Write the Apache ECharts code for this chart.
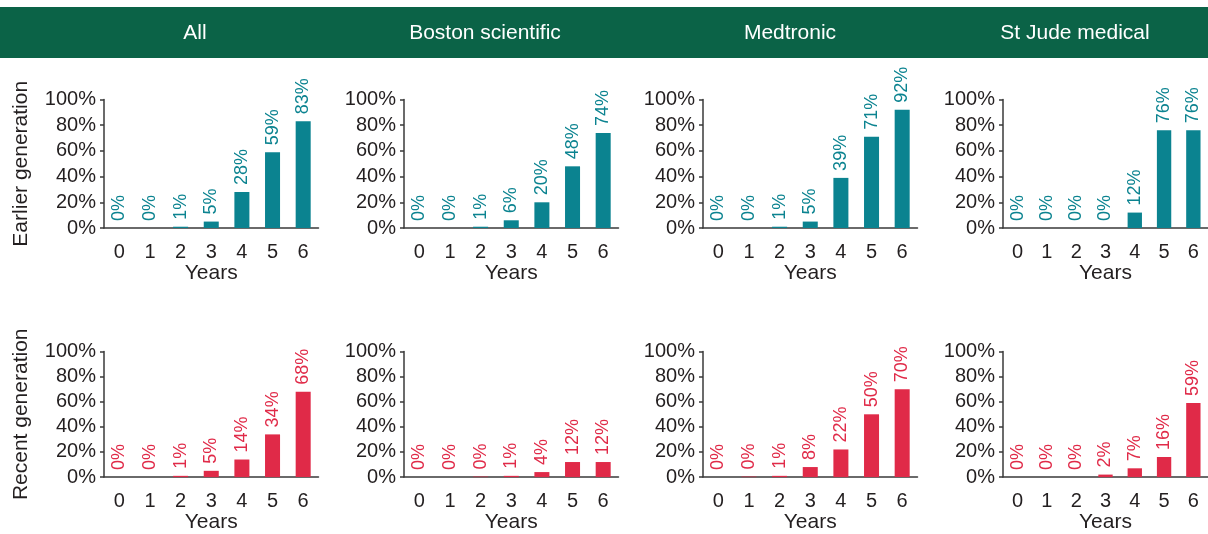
<!DOCTYPE html>
<html>
<head>
<meta charset="utf-8">
<script src="https://cdn.jsdelivr.net/npm/echarts@6/dist/echarts.min.js"></script>
<style>
  html, body { margin: 0; padding: 0; background: #fff; }
  #chart { width: 1208px; height: 534px; }
</style>
</head>
<body>
<div id="chart"></div>
<script>
// Share of devices reaching end of battery life, by years since implant
const years = ['0', '1', '2', '3', '4', '5', '6'];
const manufacturers = ['All', 'Boston scientific', 'Medtronic', 'St Jude medical'];
const generations = ['Earlier generation', 'Recent generation'];
const yTicks = [0, 20, 40, 60, 80, 100];

// Earlier-generation devices (%)
const earlierAll = [0, 0, 1, 5, 28, 59, 83];
const earlierBoston = [0, 0, 1, 6, 20, 48, 74];
const earlierMedtronic = [0, 0, 1, 5, 39, 71, 92];
const earlierStJude = [0, 0, 0, 0, 12, 76, 76];

// Recent-generation devices (%)
const recentAll = [0, 0, 1, 5, 14, 34, 68];
const recentBoston = [0, 0, 0.4, 1, 4, 12, 12];
const recentMedtronic = [0, 0.4, 1, 8, 22, 50, 70];
const recentStJude = [0, 0, 0, 2, 7, 16, 59];

const rows = [
  [earlierAll, earlierBoston, earlierMedtronic, earlierStJude],
  [recentAll, recentBoston, recentMedtronic, recentStJude]
];
const rowColors = ['#0b8390', '#e02a48'];

const FONT = '"Liberation Sans", Arial, Helvetica, sans-serif';
const TEXT = '#231f20';
const AXIS = '#3a3a3a';

const panelLeft = [104, 404, 703, 1003];
const panelTop = [99.5, 351.5];
const panelW = 214.5;
const panelH = 128.5;
const headerX = [195, 485, 790, 1075];

const grids = [], xAxes = [], yAxes = [], series = [];
rows.forEach((row, r) => {
  row.forEach((vals, c) => {
    const i = grids.length;
    grids.push({ left: panelLeft[c], top: panelTop[r], width: panelW, height: panelH, containLabel: false });
    xAxes.push({
      type: 'category', gridIndex: i, data: years,
      name: 'Years', nameLocation: 'middle', nameGap: 34,
      nameTextStyle: { fontFamily: FONT, fontSize: 21, color: TEXT },
      axisLine: { lineStyle: { color: AXIS, width: 1.5 } },
      axisTick: { length: 5, lineStyle: { color: AXIS, width: 1.5 } },
      axisLabel: { fontFamily: FONT, fontSize: 20, color: TEXT, margin: 14 }
    });
    yAxes.push({
      type: 'value', gridIndex: i, min: 0, max: 100, interval: 20,
      name: c === 0 ? generations[r] : '',
      nameLocation: 'middle', nameGap: 72,
      nameTextStyle: { fontFamily: FONT, fontSize: 21, color: TEXT },
      splitLine: { show: false },
      axisLine: { show: true, lineStyle: { color: AXIS, width: 1.5 } },
      axisTick: { show: true, length: 4, lineStyle: { color: AXIS, width: 1.5 } },
      axisLabel: { fontFamily: FONT, fontSize: 20, color: TEXT, margin: 8,
        formatter: v => yTicks.includes(v) ? v + '%' : '' }
    });
    series.push({
      type: 'bar', xAxisIndex: i, yAxisIndex: i, data: vals,
      barWidth: '49%',
      itemStyle: { color: rowColors[r] },
      label: {
        show: true, position: 'top', rotate: 90, distance: 7,
        align: 'left', verticalAlign: 'middle',
        fontFamily: FONT, fontSize: 18, color: rowColors[r],
        formatter: p => Math.round(p.value) + '%'
      },
      animation: false
    });
  });
});

const graphics = [{
  type: 'rect', shape: { x: 0, y: 7, width: 1208, height: 51 },
  style: { fill: '#0b6347' }, silent: true
}];
manufacturers.forEach((m, c) => {
  graphics.push({
    type: 'text', x: headerX[c], y: 33,
    style: { text: m, fill: '#ffffff', font: '21px ' + FONT, textAlign: 'center', textVerticalAlign: 'middle' }
  });
});

const chart = echarts.init(document.getElementById('chart'), null, { renderer: 'canvas' });
chart.setOption({
  animation: false,
  backgroundColor: '#ffffff',
  grid: grids, xAxis: xAxes, yAxis: yAxes, series: series,
  graphic: graphics
});
</script>
</body>
</html>
